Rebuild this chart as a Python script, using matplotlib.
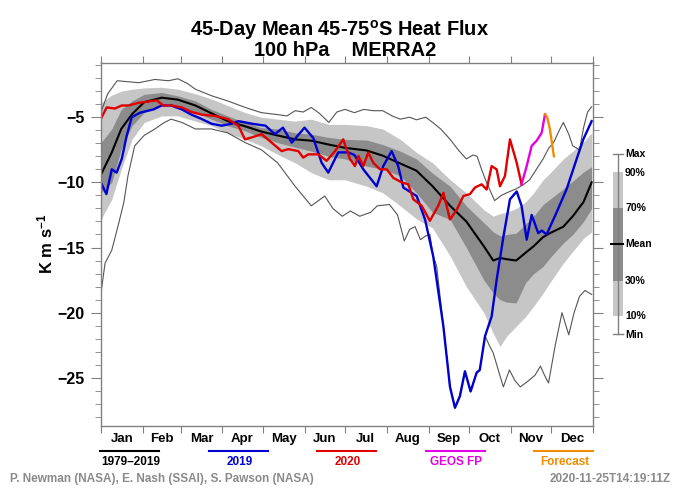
import matplotlib
matplotlib.use("Agg")
import matplotlib.pyplot as plt
from matplotlib.patches import Rectangle

plt.rcParams['font.family'] = ['Liberation Sans', 'DejaVu Sans']
plt.rcParams['font.weight'] = 'bold'
plt.rcParams['mathtext.fontset'] = 'custom'
plt.rcParams['mathtext.rm'] = 'Liberation Sans:bold'
plt.rcParams['mathtext.it'] = 'Liberation Sans:bold'
plt.rcParams['mathtext.bf'] = 'Liberation Sans:bold'

# ---- data (day of year, K m/s) ----
month_names = ["Jan", "Feb", "Mar", "Apr", "May", "Jun",
               "Jul", "Aug", "Sep", "Oct", "Nov", "Dec"]
month_starts = [0, 31, 59, 90, 120, 151, 181, 212, 243, 273, 304, 334, 365]

clim_days = [0, 8, 15, 23, 32, 45, 57, 70, 82, 94, 107, 119, 131, 144, 156,
             169, 181, 197, 209, 222, 234, 246, 259, 271, 284, 291, 296, 301,
             308, 315, 321, 328, 333, 343, 350, 358, 364]
p90 = [-3.9, -3.3, -3.0, -2.85, -2.75, -2.7, -2.85, -3.2, -3.6, -4.1, -4.65,
       -5.0, -5.15, -5.3, -5.15, -5.55, -5.55, -5.65, -5.9, -6.7, -7.7, -8.5,
       -9.8, -10.8, -12.1, -12.6, -12.4, -12.3, -12.0, -11.5, -10.8, -9.8,
       -9.3, -8.2, -7.6, -6.9, -6.2]
p70 = [-6.95, -5.9, -4.4, -3.75, -3.25, -3.1, -3.36, -3.75, -4.4, -4.9, -5.4,
       -5.8, -5.9, -6.2, -6.3, -6.55, -6.7, -6.75, -7.1, -7.6, -8.2, -9.3,
       -10.3, -11.8, -13.1, -13.8, -14.1, -14.0, -13.9, -13.2, -12.6, -11.7,
       -11.3, -10.5, -9.9, -9.2, -8.8]
mean = [-9.4, -7.7, -5.9, -4.77, -3.85, -3.5, -3.65, -4.1, -4.7, -5.3, -5.7,
        -6.1, -6.4, -6.7, -6.8, -7.1, -7.35, -7.55, -7.95, -8.55, -9.1, -10.3,
        -11.8, -13.0, -14.9, -16.0, -15.8, -15.9, -16.0, -15.4, -14.9, -14.2,
        -13.9, -13.4, -12.6, -11.5, -10.0]
p30 = [-10.8, -10.0, -7.45, -5.65, -4.65, -4.0, -4.1, -4.65, -5.15, -5.65,
       -6.05, -6.55, -6.95, -7.3, -7.6, -8.0, -8.2, -8.75, -9.0, -9.5, -10.8,
       -12.3, -12.85, -15.0, -17.5, -18.5, -19.0, -19.2, -19.25, -17.7, -17.0,
       -16.45, -15.8, -14.65, -14.0, -13.0, -12.0]
p10 = [-12.85, -11.3, -9.0, -6.7, -5.4, -4.9, -4.9, -5.3, -5.65, -6.2, -6.7,
       -7.2, -7.85, -8.5, -9.25, -9.8, -9.8, -10.3, -10.8, -11.8, -12.8, -13.5,
       -15.65, -18.0, -20.0, -21.6, -22.6, -21.8, -21.05, -20.3, -19.5, -18.5,
       -17.7, -16.2, -15.3, -14.3, -13.8]

max_days = [0, 5, 12, 28, 40, 50, 57, 64, 70, 82, 94, 107, 119, 131, 138, 144,
            150, 156, 162, 169, 175, 181, 188, 195, 202, 209, 216, 222, 229,
            234, 241, 246, 252, 259, 265, 271, 276, 279, 283, 286, 292, 297,
            301, 308, 313, 318, 323, 328, 332, 336, 340, 343, 347, 350, 355,
            358, 361, 364]
max_vals = [-4.6, -3.2, -2.2, -2.35, -2.1, -2.2, -2.05, -2.4, -2.85, -3.35,
            -3.75, -4.25, -4.65, -4.8, -4.9, -4.5, -4.6, -4.25, -4.7, -5.4,
            -4.6, -4.4, -4.65, -4.4, -4.5, -4.5, -4.9, -5.15, -5.0, -5.2, -5.0,
            -5.4, -5.9, -6.7, -7.5, -8.2, -7.9, -8.0, -9.2, -10.0, -11.4,
            -11.0, -10.8, -10.5, -10.2, -9.8, -9.0, -8.2, -7.4, -6.9, -6.0,
            -5.4, -6.3, -7.2, -7.5, -5.8, -4.6, -4.2]

min_days = [0, 3, 8, 13, 17, 20, 25, 32, 40, 47, 52, 60, 70, 82, 94, 107, 119,
            131, 144, 156, 166, 172, 179, 185, 192, 200, 205, 214, 220, 225,
            229, 233, 237, 241, 244, 246.5, 249, 254, 259, 262.6, 266, 270,
            274, 278.7, 281, 285, 288, 291, 295, 298.5, 303, 307, 311, 315,
            318, 322, 326, 329, 332, 337, 342, 347, 351, 355, 359, 364]
min_vals = [-18.5, -16.2, -15.2, -13.2, -11.5, -9.5, -7.2, -6.4, -5.9, -5.4,
            -5.15, -5.4, -5.9, -5.9, -6.2, -6.95, -7.5, -8.5, -10.3, -11.8,
            -11.05, -12.0, -12.6, -12.2, -12.6, -12.3, -11.8, -11.7, -12.5,
            -14.5, -13.6, -13.4, -14.4, -14.1, -14.0, -15.7, -16.4, -21.05,
            -25.7, -27.3, -26.4, -24.5, -26.05, -24.6, -24.4, -21.8, -22.5,
            -23.1, -24.5, -25.7, -24.4, -25.2, -25.7, -25.4, -25.15, -24.8,
            -24.1, -24.8, -25.4, -22.5, -20.0, -21.7, -20.0, -18.75, -18.3,
            -18.6]

y2019_days = [0.5, 4, 8, 11.6, 15.4, 19, 22.8, 29, 39, 45, 52, 60, 67, 75, 82,
              89.5, 97, 102, 112, 122, 129, 135, 141.5, 151, 157.5, 163.7,
              168.6, 176, 183.5, 188, 194.6, 204.5, 209.4, 215.6, 220.5, 224.3,
              234.2, 240.4, 246.5, 254, 258.9, 262.6, 266.3, 270, 274.2, 278.7,
              281, 284.9, 289.8, 293.5, 298.5, 303.4, 308.4, 312, 315.8, 319.5,
              324.4, 327, 330.6, 338, 345.5, 352.9, 357.8, 364]
y2019_vals = [-10.15, -10.9, -9.0, -9.25, -8.2, -6.45, -5.0, -4.65, -4.4, -4.1,
              -4.1, -4.4, -4.8, -5.15, -5.5, -5.65, -5.5, -5.3, -5.5, -5.65,
              -6.3, -5.8, -6.95, -5.8, -6.6, -8.5, -9.25, -7.7, -7.7, -7.9,
              -9.0, -10.3, -8.75, -7.6, -8.75, -10.4, -11.05, -12.85, -15.7,
              -21.05, -25.7, -27.3, -26.4, -24.5, -26.05, -24.6, -24.4, -21.8,
              -20.3, -17.5, -14.2, -11.3, -10.7, -11.8, -14.4, -12.5, -13.9,
              -13.7, -14.0, -12.3, -10.5, -8.2, -6.7, -5.3]

y2020_days = [0.5, 4.2, 10.4, 15.4, 20.3, 27.7, 35.1, 41.3, 46.2, 52.4, 59.9,
              67.3, 74.7, 84.6, 94.4, 101.9, 106.8, 111.8, 119.2, 126.6, 134,
              139, 146.4, 150, 153.8, 161.2, 167.4, 173.6, 179.7, 184.7, 188.4,
              190.9, 194.6, 198.3, 202, 207, 212, 216.8, 223, 228, 231.7, 237.9,
              244, 250.2, 254, 258.9, 263.9, 268.8, 273.7, 277.4, 282.4, 286.1,
              289.8, 293.5, 296, 299.7, 303.4, 308.4, 312]
y2020_vals = [-5.0, -4.25, -4.33, -4.1, -4.1, -3.9, -3.8, -3.7, -4.1, -4.1,
              -4.25, -4.6, -4.8, -4.9, -5.15, -5.65, -6.7, -6.55, -6.3, -6.95,
              -7.6, -7.45, -7.6, -8.1, -7.85, -7.85, -8.35, -7.6, -6.7, -8.2,
              -8.75, -7.97, -8.75, -7.7, -8.5, -9.0, -9.0, -9.65, -10.0, -10.15,
              -11.3, -11.8, -12.95, -11.8, -10.8, -12.85, -12.1, -11.05, -10.9,
              -10.4, -10.15, -10.55, -8.75, -9.0, -10.3, -9.5, -6.7, -8.5,
              -10.15]

geos_days = [312, 315.8, 319.5, 323.2, 326.9, 329.4]
geos_vals = [-10.15, -8.75, -7.2, -6.8, -6.2, -4.77]

fcst_days = [329.4, 331, 333, 336]
fcst_vals = [-4.77, -5.0, -5.9, -8.0]

# ---- figure ----
fig = plt.figure(figsize=(6.8, 4.96), dpi=100)
W, H = 680.0, 496.0
ax = fig.add_axes([101 / W, (H - 426) / H, 492 / W, (426 - 62.5) / H])

ax.fill_between(clim_days, p10, p90, color='#c6c6c6', lw=0)
ax.fill_between(clim_days, p30, p70, color='#8c8c8c', lw=0)
ax.plot(max_days, max_vals, color='#555555', lw=0.8)
ax.plot(min_days, min_vals, color='#555555', lw=0.8)
ax.plot(clim_days, mean, color='black', lw=1.5)
ax.plot(y2019_days, y2019_vals, color='#0000d0', lw=1.7)
ax.plot(y2020_days, y2020_vals, color='#e00000', lw=1.7)
ax.plot(geos_days, geos_vals, color='#e600e6', lw=1.7)
ax.plot(fcst_days, fcst_vals, color='#f08c00', lw=1.7)

ax.set_xlim(0, 365)
ax.set_ylim(-28.7, -0.8)

spine_c = '#808080'
for s in ax.spines.values():
    s.set_color(spine_c)
    s.set_linewidth(1.0)

ax.set_yticks([-5, -10, -15, -20, -25])
ax.set_yticks(range(-28, 0), minor=True)
ax.tick_params(axis='y', which='both', direction='out', color=spine_c,
               left=True, right=True, labelsize=11.5, pad=5)
ax.tick_params(axis='y', which='major', length=7)
ax.tick_params(axis='y', which='minor', length=4)

centers = [(month_starts[i] + month_starts[i + 1]) / 2 for i in range(12)]
ax.set_xticks(month_starts)
ax.set_xticklabels([])
ax.set_xticks(centers, minor=True)
ax.set_xticklabels(month_names, minor=True)
ax.tick_params(axis='x', which='major', direction='out', length=5,
               color=spine_c, top=True, bottom=True)
ax.tick_params(axis='x', which='minor', length=0, labelsize=9.5, pad=5)

ax.set_ylabel('K m s$^{-1}$', fontsize=12, fontweight='bold', labelpad=1)

# ---- overlay in pixel coordinates for titles and legends ----
ov = fig.add_axes([0, 0, 1, 1], zorder=5)
ov.set_xlim(0, W)
ov.set_ylim(H, 0)
ov.axis('off')
ov.patch.set_alpha(0)

# two-line title as one text block
ov.text(340, 39,
        '45-Day Mean 45-75$^{\\mathrm{o}}$S Heat Flux\n  100 hPa    MERRA2',
        fontsize=14.4, ha='center', va='center', multialignment='center',
        linespacing=0.95)

# right-hand percentile legend
lx0, lx1 = 613, 623
ov.plot([618, 618], [154, 334], color=spine_c, lw=1)
ov.plot([lx0, lx1], [154, 154], color=spine_c, lw=1)
ov.plot([lx0, lx1], [334, 334], color=spine_c, lw=1)
ov.add_patch(Rectangle((lx0, 172), lx1 - lx0, 316 - 172, color='#c6c6c6', lw=0))
ov.add_patch(Rectangle((lx0, 208), lx1 - lx0, 281 - 208, color='#8c8c8c', lw=0))
ov.plot([611, lx1], [244, 244], color='black', lw=1.5)
for lab, yy in [('Max', 154), ('90%', 173), ('70%', 208), ('Mean', 244),
                ('30%', 281), ('10%', 316), ('Min', 335)]:
    ov.text(625, yy, lab, fontsize=7.5, va='center', ha='left')

# bottom legend
leg = [('1979\u20132019', 'black', 100, 159),
       ('2019', '#0000d0', 209, 268),
       ('2020', '#e00000', 317, 376),
       ('GEOS FP', '#e600e6', 426, 485),
       ('Forecast', '#f08c00', 534, 593)]
for lab, c, a, b in leg:
    ov.plot([a, b], [451, 451], color=c, lw=1.5)
    ov.text((a + b) / 2 + 1, 462, lab, color=c, fontsize=8.5, ha='center',
            va='center')

ov.text(10, 479, 'P. Newman (NASA), E. Nash (SSAI), S. Pawson (NASA)',
        color='#8a8a8a', fontsize=8.5, ha='left', va='center')
ov.text(671, 479, '2020-11-25T14:19:11Z', color='#8a8a8a', fontsize=8.5,
        ha='right', va='center')

fig.savefig('out.png', dpi=100)
